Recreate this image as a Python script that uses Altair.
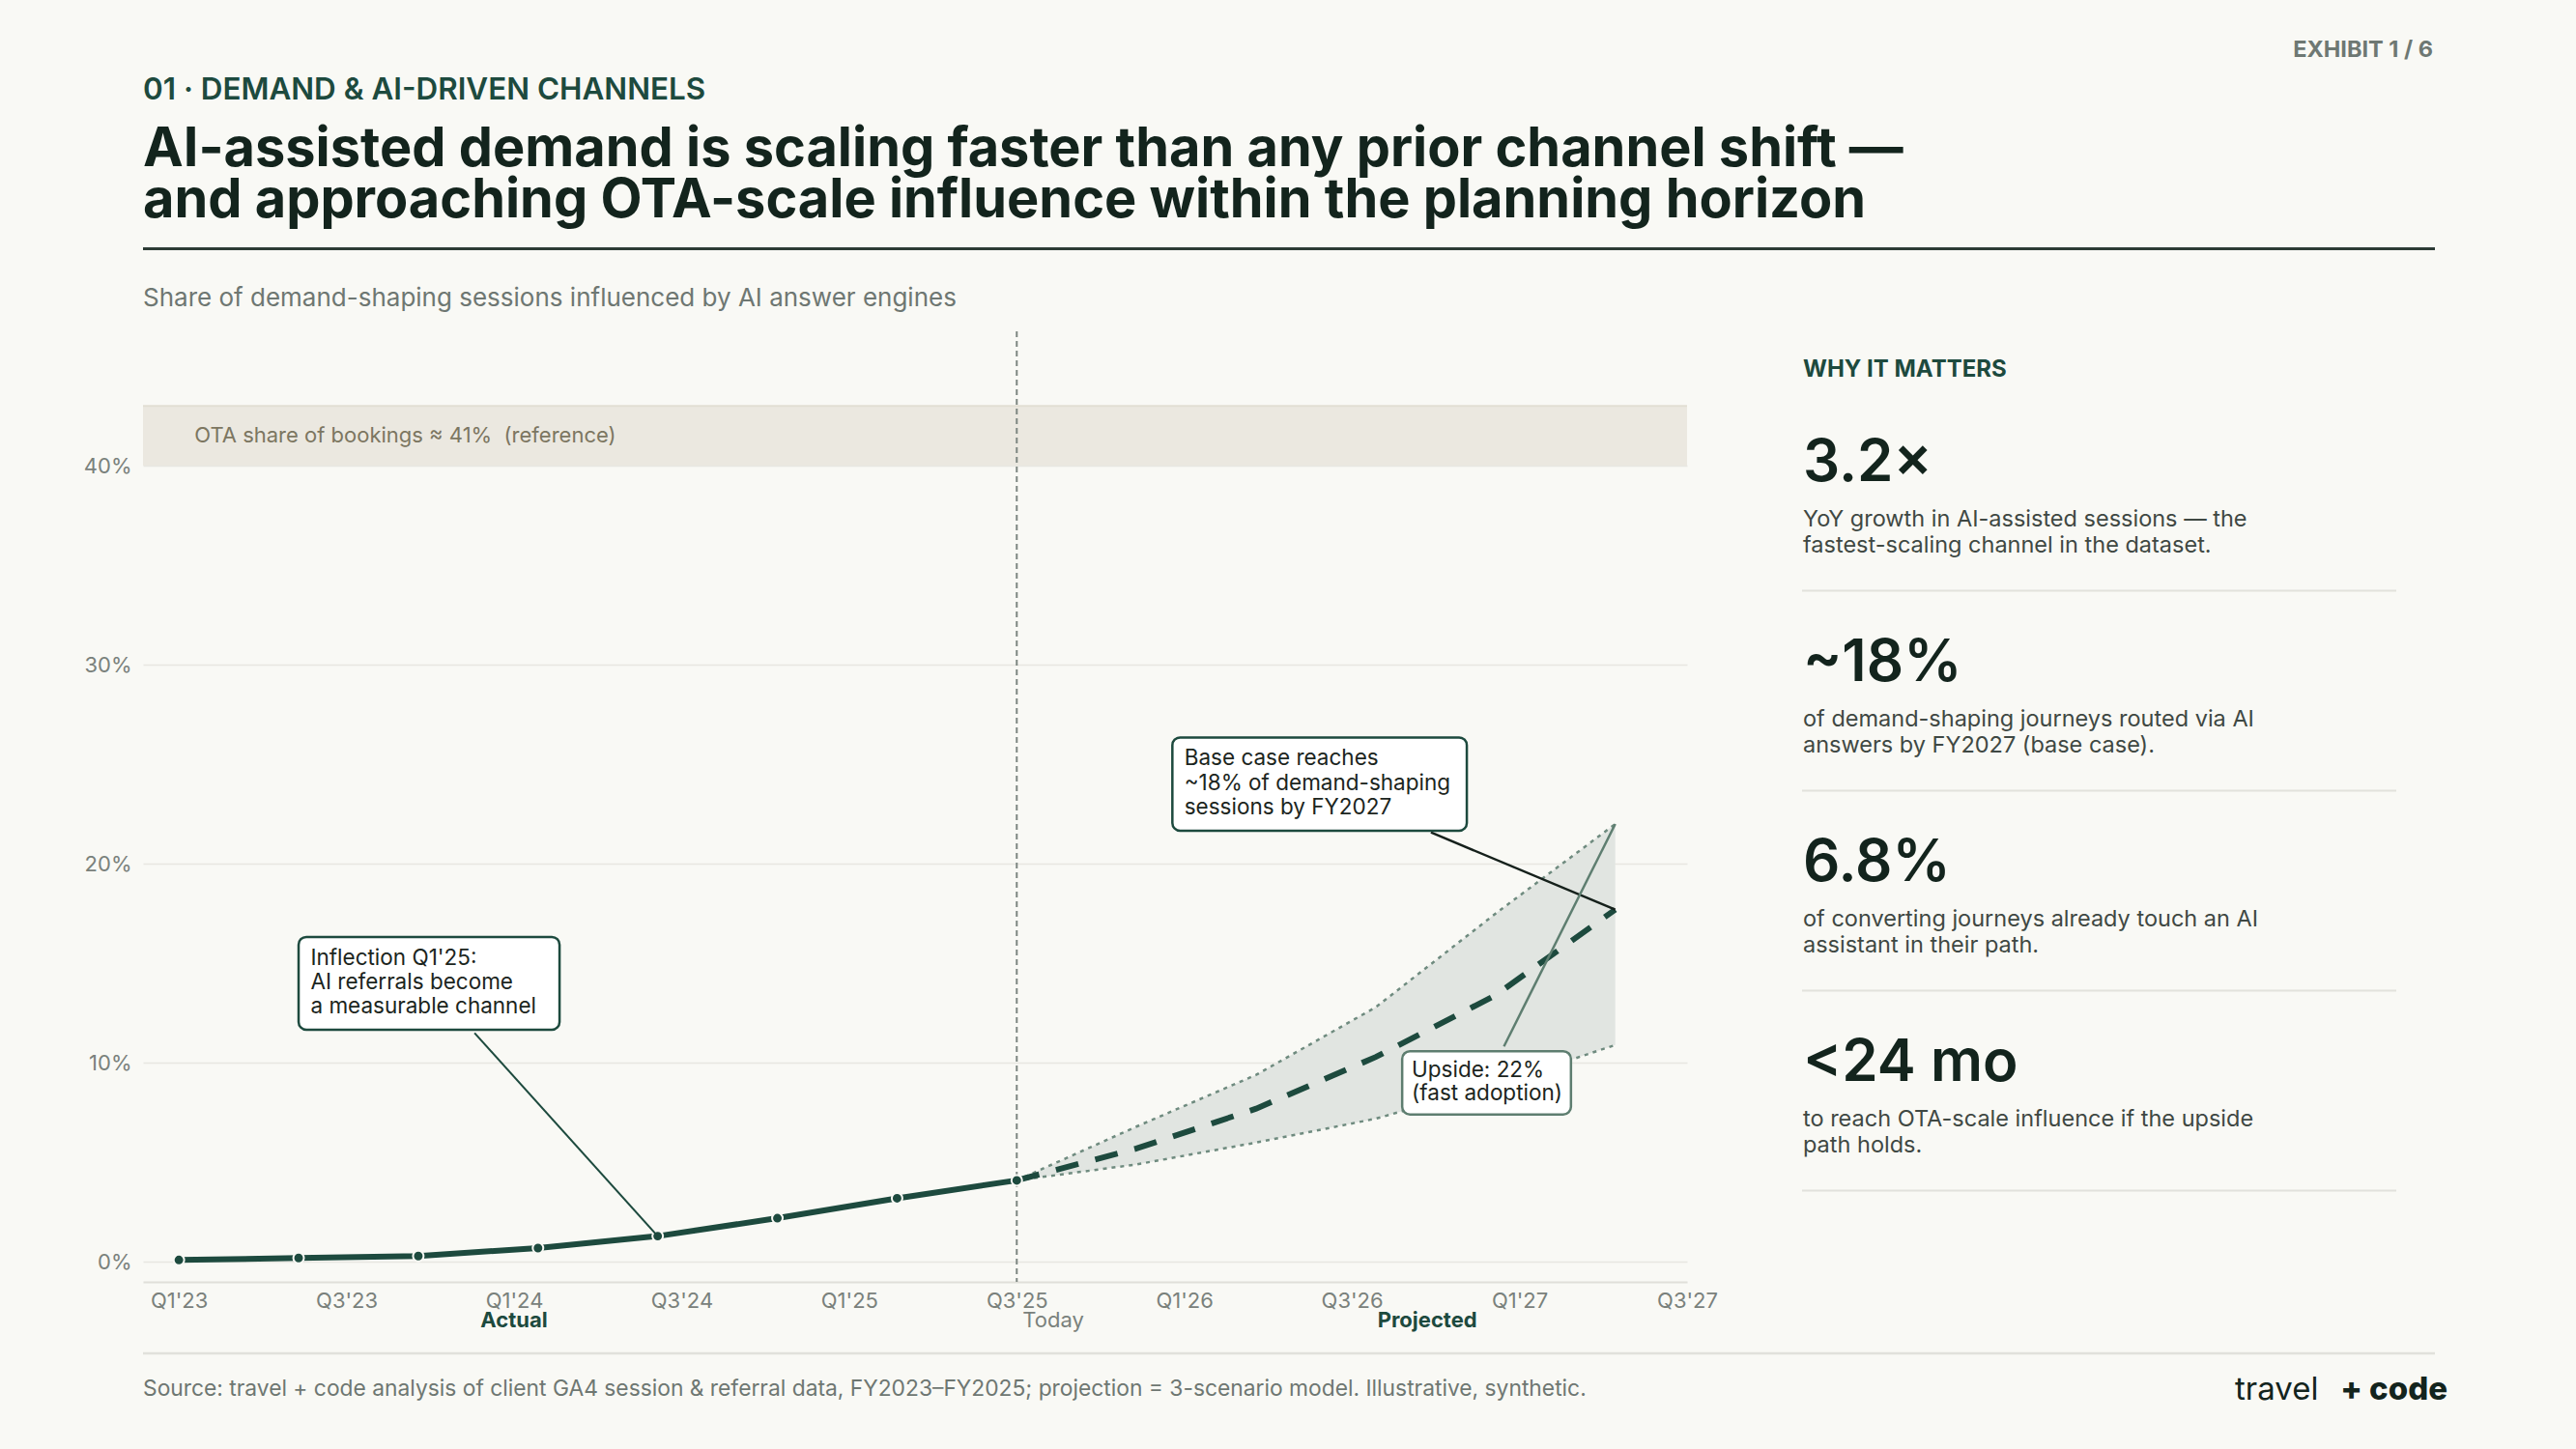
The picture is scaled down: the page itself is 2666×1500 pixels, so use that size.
import altair as alt
import pandas as pd

# ---------------------------------------------------------------- data
QUARTER_LABELS = ["Q1'23", "Q3'23", "Q1'24", "Q3'24", "Q1'25",
                  "Q3'25", "Q1'26", "Q3'26", "Q1'27", "Q3'27"]
TICK_POS = [0, 1.4, 2.8, 4.2, 5.6, 7.0, 8.4, 9.8, 11.2, 12.6]

ACTUAL_T = [0, 1, 2, 3, 4, 5, 6, 7]
ACTUAL = [0.1, 0.2, 0.3, 0.7, 1.3, 2.2, 3.2, 4.1]

PROJ_T = [7, 8, 9, 10, 11, 12]
BASE = [4.1, 5.7, 7.7, 10.3, 13.4, 17.7]
UPSIDE = [4.1, 6.8, 9.4, 12.8, 17.5, 22.0]
DOWNSIDE = [4.1, 4.9, 6.0, 7.2, 8.9, 10.9]

TODAY_T = 7
OTA_LOW, OTA_HIGH = 40, 43
Y_TICKS = [0, 10, 20, 30, 40]

KPI_VALUES = ["3.2×", "~18%", "6.8%", "<24 mo"]
KPI_NOTES = [
    ["YoY growth in AI-assisted sessions — the", "fastest-scaling channel in the dataset."],
    ["of demand-shaping journeys routed via AI", "answers by FY2027 (base case)."],
    ["of converting journeys already touch an AI", "assistant in their path."],
    ["to reach OTA-scale influence if the upside", "path holds."],
]

# ---------------------------------------------------------------- style
FONT = "Inter"
BG = "#f9f9f5"
GREEN = "#1d4a3e"
INK = "#13241d"
MUTED = "#6e7772"
AXIS_TXT = "#7a817c"
GRID = "#e8e7e1"
BAND = "#e1e5e1"
DOT = "#6f8b7f"
UPSIDE_C = "#5e7e70"

PAGE_W, PAGE_H = 2666, 1500
X0, Y0 = 148, 343          # plot origin on the page
PW, PH = 1598, 984         # plot size

x_scale = alt.Scale(domain=[-0.3, 12.6], nice=False, zero=False)
y_scale = alt.Scale(domain=[-1, 46.75], nice=False, zero=False)

label_expr = "[" + ",".join('"%s"' % q for q in QUARTER_LABELS) + "][round(datum.value / 1.4)]"
x_axis = alt.Axis(values=TICK_POS, labelExpr=label_expr, title=None, grid=False,
                  ticks=False, domain=True, domainColor="#e0dfd9", domainWidth=2,
                  labelFont=FONT, labelFontSize=22, labelColor=AXIS_TXT,
                  labelPadding=9, labelFlush=False, labelOverlap=False)
y_axis = alt.Axis(values=Y_TICKS, labelExpr="datum.value + '%'", title=None,
                  grid=True, gridColor=GRID, gridWidth=1.5, ticks=False,
                  domain=False, labelFont=FONT, labelFontSize=22,
                  labelColor=AXIS_TXT, labelPadding=12)


def X(field):
    return alt.X(field, type="quantitative", scale=x_scale, axis=x_axis)


def Y(field):
    return alt.Y(field, type="quantitative", scale=y_scale, axis=y_axis)


actual_df = pd.DataFrame({"t": ACTUAL_T, "v": ACTUAL})
proj_df = pd.DataFrame({"t": PROJ_T, "base": BASE, "up": UPSIDE, "down": DOWNSIDE})

# OTA reference band
ota_df = pd.DataFrame({"x": [-0.3], "x2": [12.6], "lo": [OTA_LOW], "hi": [OTA_HIGH]})
ota_band = alt.Chart(ota_df).mark_rect(color="#ebe8e0").encode(
    x=X("x"), x2="x2", y=Y("lo"), y2="hi")
ota_edge = alt.Chart(ota_df).mark_rule(color="#e2ded3", strokeWidth=2).encode(
    x=X("x"), x2="x2", y=Y("hi"))
ota_text = alt.Chart(pd.DataFrame({"t": ["OTA share of bookings ≈ 41%\u00a0 (reference)"],
                                   "x": [0.13], "y": [41.5]})).mark_text(
    align="left", baseline="middle", font=FONT, fontSize=22, color="#7c7661"
).encode(x=X("x"), y=Y("y"), text="t:N")

# scenario range
scen_area = alt.Chart(proj_df).mark_area(color=BAND, opacity=1).encode(
    x=X("t"), y=Y("up"), y2="down")
up_line = alt.Chart(proj_df).mark_line(color=DOT, strokeWidth=2.5, strokeDash=[4, 5]).encode(
    x=X("t"), y=Y("up"))
down_line = alt.Chart(proj_df).mark_line(color=DOT, strokeWidth=2.5, strokeDash=[4, 5]).encode(
    x=X("t"), y=Y("down"))

today_rule = alt.Chart(pd.DataFrame({"t": [TODAY_T]})).mark_rule(
    color="#7d8681", strokeWidth=2, strokeDash=[6, 4]).encode(x=X("t"))

base_line = alt.Chart(proj_df).mark_line(color=GREEN, strokeWidth=6, strokeDash=[24, 18]).encode(
    x=X("t"), y=Y("base"))
actual_line = alt.Chart(actual_df).mark_line(color=GREEN, strokeWidth=6).encode(
    x=X("t"), y=Y("v"))
actual_pts = alt.Chart(actual_df).mark_point(
    filled=True, fill=GREEN, stroke=BG, strokeWidth=2, size=120, opacity=1, shape="circle"
).encode(x=X("t"), y=Y("v"))

# callouts: box extents and text in data units
boxes = pd.DataFrame({
    "x": [1.0, 8.30, 10.22], "x2": [3.18, 10.76, 11.63],
    "y": [11.67, 21.66, 7.41], "y2": [16.33, 26.35, 10.59],
    "kind": ["main", "main", "up"],
})
leaders = pd.DataFrame({
    "x": [2.47, 10.46, 11.07], "y": [11.5, 21.58, 10.83],
    "x2": [ACTUAL_T[4], PROJ_T[-1], PROJ_T[-1]],
    "y2": [ACTUAL[4], BASE[-1], UPSIDE[-1]],
})
box_text = pd.DataFrame({
    "x": [1.10, 1.10, 1.10, 8.40, 8.40, 8.40, 10.30, 10.30],
    "y": [15.26, 14.05, 12.84, 25.30, 24.05, 22.84, 9.62, 8.44],
    "t": ["Inflection Q1'25:", "AI referrals become", "a measurable channel",
          "Base case reaches", "~18% of demand-shaping", "sessions by FY2027",
          "Upside: 22%", "(fast adoption)"],
})

lead_a = alt.Chart(leaders.iloc[[0]]).mark_rule(color=GREEN, strokeWidth=2).encode(
    x=X("x"), y=Y("y"), x2="x2", y2="y2")
lead_b = alt.Chart(leaders.iloc[[1]]).mark_rule(color="#15201b", strokeWidth=2.5).encode(
    x=X("x"), y=Y("y"), x2="x2", y2="y2")
lead_c = alt.Chart(leaders.iloc[[2]]).mark_rule(color=UPSIDE_C, strokeWidth=2.5).encode(
    x=X("x"), y=Y("y"), x2="x2", y2="y2")

box_main = alt.Chart(boxes[boxes.kind == "main"]).mark_rect(
    fill="white", stroke=GREEN, strokeWidth=2.5, cornerRadius=8).encode(
    x=X("x"), x2="x2", y=Y("y"), y2="y2")
box_up = alt.Chart(boxes[boxes.kind == "up"]).mark_rect(
    fill="white", stroke=UPSIDE_C, strokeWidth=2.5, cornerRadius=8).encode(
    x=X("x"), x2="x2", y=Y("y"), y2="y2")
box_txt = alt.Chart(box_text).mark_text(
    align="left", baseline="middle", font=FONT, fontSize=22.5, color="#1b2520").encode(
    x=X("x"), y=Y("y"), text="t:N")

# phase labels under the axis
phase_df = pd.DataFrame({"x": [2.8, 10.43], "t": ["Actual", "Projected"]})
phase_txt = alt.Chart(phase_df).mark_text(
    align="center", baseline="alphabetic", font=FONT, fontSize=22, fontWeight=700, color=GREEN
).encode(x=X("x"), y=alt.value(1374 - Y0), text="t:N")
today_txt = alt.Chart(pd.DataFrame({"x": [TODAY_T], "t": ["Today"]})).mark_text(
    align="left", baseline="alphabetic", dx=6, font=FONT, fontSize=22, color=AXIS_TXT
).encode(x=X("x"), y=alt.value(1374 - Y0), text="t:N")


# ---------------------------------------------------------------- page furniture
def page_text(text, px, py, size, color, weight=400, align="left"):
    return alt.Chart(pd.DataFrame({"t": [text]})).mark_text(
        align=align, baseline="alphabetic", font=FONT, fontSize=size,
        fontWeight=weight, color=color
    ).encode(x=alt.value(px - X0), y=alt.value(py - Y0), text="t:N")


def page_rule(xa, xb, py, color, width):
    return alt.Chart(pd.DataFrame({"d": [0]})).mark_rule(color=color, strokeWidth=width).encode(
        x=alt.value(xa - X0), x2=alt.value(xb - X0), y=alt.value(py - Y0))


furniture = [
    page_text("EXHIBIT 1 / 6", 2518, 59, 23.5, "#6e7873", weight=700, align="right"),
    page_text("01 · DEMAND & AI-DRIVEN CHANNELS", 148, 103, 31.4, GREEN, weight=600),
    page_text("AI-assisted demand is scaling faster than any prior channel shift —",
              148, 172, 55.9, INK, weight=700),
    page_text("and approaching OTA-scale influence within the planning horizon",
              148, 225, 55.9, INK, weight=700),
    page_rule(148, 2520, 257.5, "#2d3b35", 3),
    page_text("Share of demand-shaping sessions influenced by AI answer engines",
              148, 317, 26, MUTED),
    page_text("WHY IT MATTERS", 1866, 390, 24, GREEN, weight=700),
    page_rule(148, 2520, 1401, "#e1e1db", 2.5),
    page_text("Source: travel + code analysis of client GA4 session & referral data, "
              "FY2023–FY2025; projection = 3-scenario model. Illustrative, synthetic.",
              148, 1445, 22.8, MUTED),
    page_text("travel", 2313, 1449, 33, INK, weight=400),
    page_text("+ code", 2533, 1449, 33, INK, weight=800, align="right"),
]

for i, (value, note) in enumerate(zip(KPI_VALUES, KPI_NOTES)):
    base_y = 497.6 + 207.0 * i
    furniture.append(page_text(value, 1866, base_y, 60, INK, weight=600))
    furniture.append(page_text(note[0], 1866, base_y + 47, 23.5, "#3f4843"))
    furniture.append(page_text(note[1], 1866, base_y + 74, 23.5, "#3f4843"))
    furniture.append(page_rule(1865, 2480, base_y + 114, "#e2e2dc", 2))

chart = alt.layer(
    ota_band, ota_edge, ota_text,
    scen_area, up_line, down_line,
    today_rule, base_line, actual_line, actual_pts,
    lead_a, lead_b, lead_c, box_main, box_up, box_txt,
    phase_txt, today_txt,
    *furniture,
).properties(
    width=PW, height=PH,
    background=BG,
    padding={"left": X0, "top": Y0, "right": PAGE_W - X0 - PW, "bottom": PAGE_H - Y0 - PH},
    autosize=alt.AutoSizeParams(type="none"),
).configure_view(stroke=None)

chart.save("out.html", embed_options={"renderer": "svg", "actions": False})
